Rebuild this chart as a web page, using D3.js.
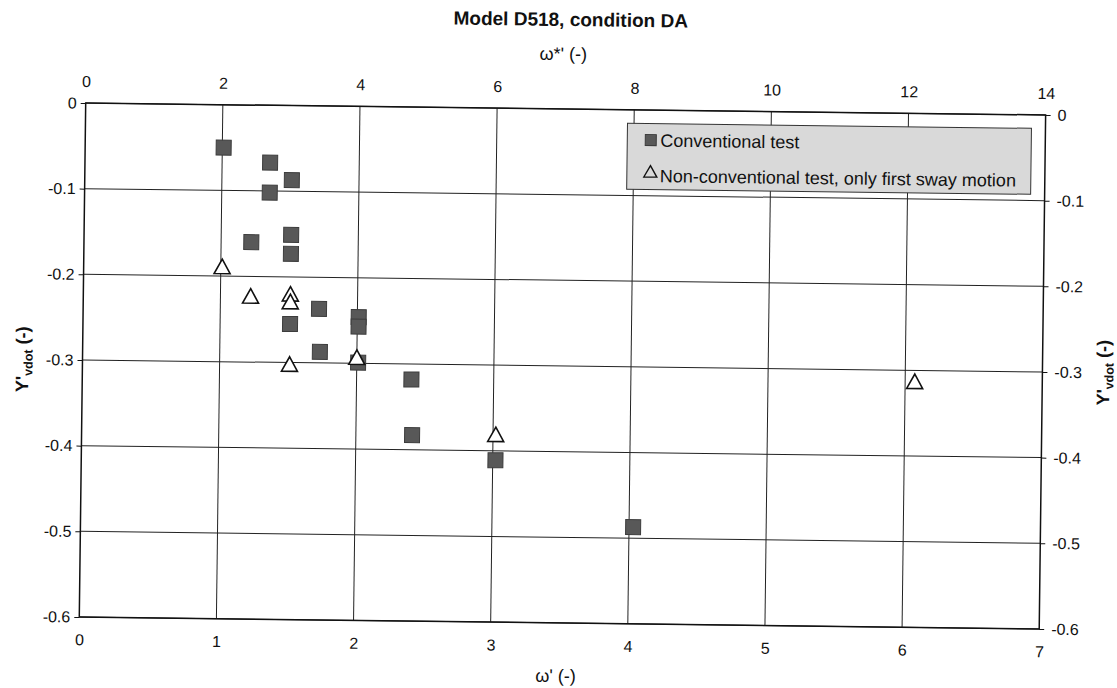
<!DOCTYPE html>
<html>
<head>
<meta charset="utf-8">
<title>Model D518, condition DA</title>
<script src="https://cdnjs.cloudflare.com/ajax/libs/d3/7.8.5/d3.min.js"></script>
<style>
  body { margin: 0; background: #fff; }
  text { font-family: "Liberation Sans", Arial, sans-serif; fill: #111; }
</style>
</head>
<body>
<div id="vis"></div>
<script>
// conventional test (squares)
var convX = [1.01, 1.35, 1.51, 1.35, 1.22, 1.51, 1.51, 1.51, 1.72, 1.73, 2.01, 2.01, 2.01, 2.40, 2.41, 3.02, 4.03];
var convY = [-0.050, -0.067, -0.087, -0.102, -0.160, -0.151, -0.173, -0.255, -0.237, -0.287, -0.246, -0.257, -0.299, -0.318, -0.383, -0.411, -0.487];
// non-conventional test, only first sway motion (triangles)
var nonX = [1.01, 1.22, 1.51, 1.51, 1.51, 2.00, 3.02, 6.07];
var nonY = [-0.189, -0.223, -0.220, -0.229, -0.302, -0.293, -0.381, -0.313];

var xTicks = [0, 1, 2, 3, 4, 5, 6, 7];
var topTicks = [0, 2, 4, 6, 8, 10, 12, 14];
var yTicks = [0, -0.1, -0.2, -0.3, -0.4, -0.5, -0.6];
var yLabels = ["0", "-0.1", "-0.2", "-0.3", "-0.4", "-0.5", "-0.6"];
var seriesNames = ["Conventional test", "Non-conventional test, only first sway motion"];

var W = 960, H = 514;

var svg = d3.select("#vis").append("svg")
  .attr("width", 1117).attr("height", 688);

// the scanned page is turned a little clockwise
var g = svg.append("g").attr("transform", "translate(85.7,103) rotate(0.715)");

var x = d3.scaleLinear().domain([0, 7]).range([0, W]);
var xTop = d3.scaleLinear().domain([0, 14]).range([0, W]);
var y = d3.scaleLinear().domain([-0.6, 0]).range([H, 0]);

// grid
g.selectAll("line.hg").data(yTicks).enter().append("line")
  .attr("class", "hg")
  .attr("x1", 0).attr("x2", W)
  .attr("y1", function(d) { return y(d); }).attr("y2", function(d) { return y(d); })
  .attr("stroke", "#222").attr("stroke-width", 1);
g.selectAll("line.vg").data(xTicks.slice(1, -1)).enter().append("line")
  .attr("class", "vg")
  .attr("y1", 0).attr("y2", H)
  .attr("x1", function(d) { return x(d); }).attr("x2", function(d) { return x(d); })
  .attr("stroke", "#222").attr("stroke-width", 1);

g.append("rect").attr("x", 0).attr("y", 0).attr("width", W).attr("height", H)
  .attr("fill", "none").attr("stroke", "#111").attr("stroke-width", 1.5);

// axes
function style(ax, size) {
  ax.select(".domain").remove();
  ax.selectAll("text").attr("font-size", size)
    .attr("font-family", "Liberation Sans, Arial, sans-serif").attr("fill", "#111");
  ax.selectAll("line").attr("stroke", "#111");
}
var ax;
ax = g.append("g").attr("transform", "translate(0," + H + ")")
  .call(d3.axisBottom(x).tickValues(xTicks).tickSize(0).tickPadding(17).tickFormat(d3.format("d")));
style(ax, 16);
ax = g.append("g")
  .call(d3.axisTop(xTop).tickValues(topTicks).tickSize(0).tickPadding(16).tickFormat(d3.format("d")));
style(ax, 16);
ax = g.append("g")
  .call(d3.axisLeft(y).tickValues(yTicks).tickSize(5).tickPadding(4)
    .tickFormat(function(d, i) { return yLabels[i]; }));
style(ax, 16);
ax = g.append("g").attr("transform", "translate(" + W + ",0)")
  .call(d3.axisRight(y).tickValues(yTicks).tickSize(5).tickPadding(7)
    .tickFormat(function(d, i) { return yLabels[i]; }));
style(ax, 16);

// titles
g.append("text").attr("x", 484).attr("y", -83).attr("text-anchor", "middle")
  .attr("font-size", 19).attr("font-weight", "bold").text("Model D518, condition DA");
g.append("text").attr("x", 477).attr("y", -49).attr("text-anchor", "middle")
  .attr("font-size", 18).text("ω*' (-)");
g.append("text").attr("x", 477).attr("y", 573).attr("text-anchor", "middle")
  .attr("font-size", 18).text("ω' (-)");

function yTitle(px) {
  var t = g.append("text")
    .attr("transform", "translate(" + px + "," + (H / 2) + ") rotate(-90)")
    .attr("text-anchor", "middle").attr("font-size", 18).attr("font-weight", "bold");
  t.append("tspan").text("Y'");
  t.append("tspan").attr("font-size", 12.5).attr("dy", 4).text("vdot");
  t.append("tspan").attr("dy", -4).text(" (-)");
}
yTitle(-54);
yTitle(W + 67);

// markers
var tri = "M0,-7.5L8,7L-8,7Z";
g.selectAll("rect.conv").data(convX).enter().append("rect")
  .attr("class", "conv")
  .attr("x", function(d) { return x(d) - 7.5; })
  .attr("y", function(d, i) { return y(convY[i]) - 7.5; })
  .attr("width", 15).attr("height", 15)
  .attr("fill", "#585858").attr("stroke", "#3c3c3c").attr("stroke-width", 1);
g.selectAll("path.non").data(nonX).enter().append("path")
  .attr("class", "non")
  .attr("d", tri)
  .attr("transform", function(d, i) { return "translate(" + x(d) + "," + y(nonY[i]) + ")"; })
  .attr("fill", "#fff").attr("stroke", "#111").attr("stroke-width", 1.6);

// legend
var lg = g.append("g").attr("transform", "translate(542,13.5)");
lg.append("rect").attr("width", 404).attr("height", 66)
  .attr("fill", "#d9d9d9").attr("stroke", "#333").attr("stroke-width", 1);
lg.append("rect").attr("x", 18).attr("y", 11).attr("width", 11).attr("height", 11)
  .attr("fill", "#585858").attr("stroke", "#3c3c3c");
lg.append("path").attr("d", "M0,-6L6.5,5.5L-6.5,5.5Z").attr("transform", "translate(23.5,48)")
  .attr("fill", "none").attr("stroke", "#111").attr("stroke-width", 1.4);
lg.selectAll("text").data(seriesNames).enter().append("text")
  .attr("x", 33).attr("y", function(d, i) { return 23 + i * 35.5; })
  .attr("font-size", 18).text(function(d) { return d; });
</script>
</body>
</html>
